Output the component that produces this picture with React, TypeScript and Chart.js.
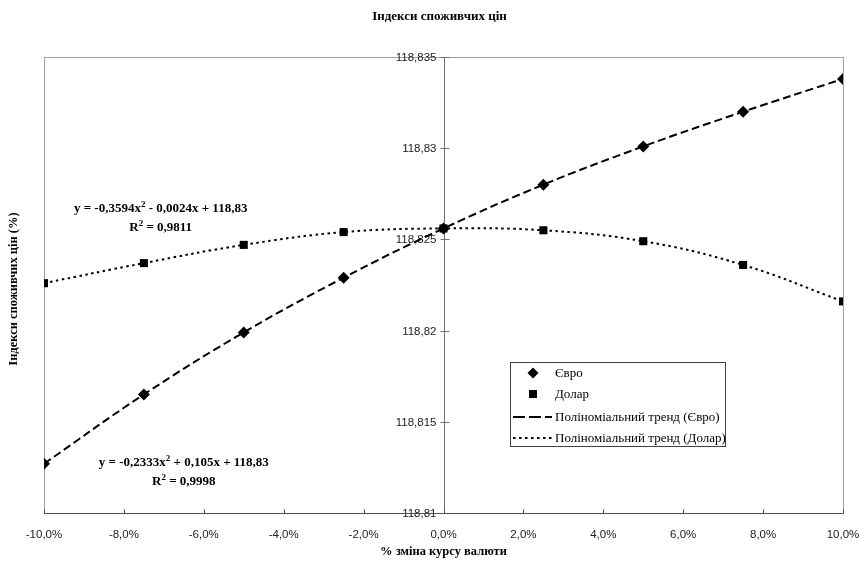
import React, { useEffect, useRef } from 'react';
import { Chart, registerables } from 'chart.js';

Chart.register(...registerables);

// ---- data ----
const xValues = [-10, -7.5, -5, -2.5, 0, 2.5, 5, 7.5, 10];
const euroValues = [118.8127, 118.8165, 118.8199, 118.8229, 118.8256, 118.828, 118.8301, 118.832, 118.8338];
const dollarValues = [118.8226, 118.8237, 118.8247, 118.8254, 118.8256, 118.8255, 118.8249, 118.8236, 118.8216];
const xTicks = [-10, -8, -6, -4, -2, 0, 2, 4, 6, 8, 10];
const yTicks = [118.81, 118.815, 118.82, 118.825, 118.83, 118.835];
const seriesLabels = ['Євро', 'Долар', 'Поліноміальний тренд (Євро)', 'Поліноміальний тренд (Долар)'];
const chartTitle = 'Індекси споживчих цін';
const xTitle = '% зміна курсу валюти';
const yTitle = 'Індекси споживчих цін (%)';
const dollarEquation = [['y = -0,3594x', '2', ' - 0,0024x + 118,83'], ['R', '2', ' = 0,9811']];
const euroEquation = [['y = -0,2333x', '2', ' + 0,105x + 118,83'], ['R', '2', ' = 0,9998']];
const dollarEqAnchor = [-7.08, 118.8267];
const euroEqAnchor = [-6.5, 118.8128];

const SERIF = '"Liberation Serif", "Times New Roman", serif';
const SANS = '"Liberation Sans", Arial, sans-serif';

const fmtY = (v: number) => String(Number(Number(v).toFixed(3))).replace('.', ',');
const fmtX = (v: number) => Number(v).toFixed(1).replace('.', ',') + '%';

function drawEquation(ctx: CanvasRenderingContext2D, lines: string[][], cx: number, cy: number) {
  const big = `bold 13px ${SERIF}`;
  const small = `bold 9px ${SERIF}`;
  lines.forEach((parts, i) => {
    const y = cy + i * 19;
    ctx.font = big;
    const w0 = ctx.measureText(parts[0]).width;
    const w2 = ctx.measureText(parts[2]).width;
    ctx.font = small;
    const w1 = ctx.measureText(parts[1]).width;
    let x = cx - (w0 + w1 + w2) / 2;
    ctx.textAlign = 'left';
    ctx.textBaseline = 'alphabetic';
    ctx.fillStyle = '#000';
    ctx.font = big;
    ctx.fillText(parts[0], x, y + 4);
    x += w0;
    ctx.font = small;
    ctx.fillText(parts[1], x, y - 1);
    x += w1;
    ctx.font = big;
    ctx.fillText(parts[2], x, y + 4);
  });
}

const decorPlugin = {
  id: 'decor',
  beforeDatasetsDraw(chart: any) {
    const { ctx, chartArea: ca, scales } = chart;
    const line = (x1: number, y1: number, x2: number, y2: number) => {
      ctx.beginPath();
      ctx.moveTo(x1, y1);
      ctx.lineTo(x2, y2);
      ctx.stroke();
    };
    ctx.save();
    ctx.lineWidth = 1;
    ctx.strokeStyle = '#a0a0a0';
    ctx.strokeRect(Math.round(ca.left) + 0.5, Math.round(ca.top) + 0.5, Math.round(ca.right - ca.left), Math.round(ca.bottom - ca.top));
    const x0 = Math.round(scales.x.getPixelForValue(0)) + 0.5;
    ctx.strokeStyle = '#707070';
    line(x0, ca.top, x0, ca.bottom);
    // y tick marks and labels (axis sits at x = 0)
    ctx.font = `11.5px ${SANS}`;
    ctx.fillStyle = '#222';
    ctx.textAlign = 'right';
    ctx.textBaseline = 'middle';
    for (const v of yTicks) {
      const y = Math.round(scales.y.getPixelForValue(v)) + 0.5;
      line(x0 - 4, y, x0 + 5, y);
      ctx.fillText(fmtY(v), x0 - 8, y);
    }
    ctx.strokeStyle = '#505050';
    const yb = Math.round(ca.bottom) + 0.5;
    line(ca.left, yb, ca.right, yb);
    for (const v of xTicks) {
      const x = Math.round(scales.x.getPixelForValue(v)) + 0.5;
      line(x, yb, x, yb - 4);
    }
    ctx.restore();
  },
  afterDraw(chart: any) {
    const { ctx, chartArea: ca, scales } = chart;
    ctx.save();
    ctx.fillStyle = '#000';
    // chart title
    ctx.font = `bold 13px ${SERIF}`;
    ctx.textAlign = 'center';
    ctx.textBaseline = 'middle';
    ctx.fillText(chartTitle, (ca.left + ca.right) / 2 - 4, 17);
    // x title
    ctx.font = `bold 12.5px ${SERIF}`;
    ctx.fillText(xTitle, scales.x.getPixelForValue(0), 552);
    // y title
    ctx.save();
    ctx.translate(14, (ca.top + ca.bottom) / 2 + 4);
    ctx.rotate(-Math.PI / 2);
    ctx.fillText(yTitle, 0, 0);
    ctx.restore();
    // equations
    drawEquation(ctx, dollarEquation, scales.x.getPixelForValue(dollarEqAnchor[0]), scales.y.getPixelForValue(dollarEqAnchor[1]));
    drawEquation(ctx, euroEquation, scales.x.getPixelForValue(euroEqAnchor[0]), scales.y.getPixelForValue(euroEqAnchor[1]));
    // legend
    const lx = ca.left + 466;
    const ly = ca.top + 305;
    const lw = 215;
    const lh = 84;
    ctx.fillStyle = '#fff';
    ctx.fillRect(lx, ly, lw, lh);
    ctx.strokeStyle = '#404040';
    ctx.lineWidth = 1;
    ctx.strokeRect(lx + 0.5, ly + 0.5, lw, lh);
    const rows = [11, 32, 55, 76];
    const textX = lx + 45;
    ctx.font = `13px ${SERIF}`;
    ctx.textAlign = 'left';
    ctx.textBaseline = 'middle';
    ctx.fillStyle = '#000';
    rows.forEach((dy, i) => {
      const y = ly + dy;
      if (i === 0) {
        ctx.beginPath();
        ctx.moveTo(lx + 23, y - 5.5);
        ctx.lineTo(lx + 28.5, y);
        ctx.lineTo(lx + 23, y + 5.5);
        ctx.lineTo(lx + 17.5, y);
        ctx.closePath();
        ctx.fill();
      } else if (i === 1) {
        ctx.fillRect(lx + 19, y - 4, 8, 8);
      } else {
        ctx.save();
        ctx.strokeStyle = '#000';
        ctx.lineWidth = 2;
        ctx.setLineDash(i === 2 ? [12, 4] : [2.5, 3.5]);
        ctx.beginPath();
        ctx.moveTo(lx + 3, y);
        ctx.lineTo(lx + 42, y);
        ctx.stroke();
        ctx.restore();
      }
      ctx.fillText(seriesLabels[i], textX, y + 1);
    });
    ctx.restore();
  },
};

export default function App() {
  const ref = useRef<HTMLCanvasElement | null>(null);
  useEffect(() => {
    const canvas = ref.current;
    if (!canvas) return;
    const euroPts = xValues.map((x, i) => ({ x, y: euroValues[i] }));
    const dollarPts = xValues.map((x, i) => ({ x, y: dollarValues[i] }));
    const chart = new Chart(canvas, {
      type: 'line',
      data: {
        datasets: [
          {
            label: seriesLabels[0],
            data: euroPts,
            showLine: false,
            pointStyle: 'rectRot',
            pointRadius: 6,
            pointBackgroundColor: '#000',
            pointBorderColor: '#000',
            pointBorderWidth: 0,
          },
          {
            label: seriesLabels[1],
            data: dollarPts,
            showLine: false,
            pointStyle: 'rect',
            pointRadius: 5.7,
            pointBackgroundColor: '#000',
            pointBorderColor: '#000',
            pointBorderWidth: 0,
          },
          {
            label: seriesLabels[2],
            data: euroPts,
            borderColor: '#000',
            borderWidth: 2,
            borderDash: [8, 4],
            pointRadius: 0,
            tension: 0.4,
            fill: false,
          },
          {
            label: seriesLabels[3],
            data: dollarPts,
            borderColor: '#000',
            borderWidth: 2,
            borderDash: [2.5, 3.5],
            pointRadius: 0,
            tension: 0.4,
            fill: false,
          },
        ],
      },
      options: {
        animation: false,
        responsive: true,
        maintainAspectRatio: false,
        events: [],
        layout: { padding: { top: 57, left: 44, right: 16, bottom: 0 } },
        plugins: {
          legend: { display: false },
          title: { display: false },
          tooltip: { enabled: false },
        },
        scales: {
          x: {
            type: 'linear',
            min: -10,
            max: 10,
            grid: { display: false },
            border: { display: false },
            afterBuildTicks: (s: any) => {
              s.ticks = xTicks.map((v) => ({ value: v }));
            },
            afterFit: (s: any) => {
              s.height = 48;
              s.paddingLeft = 0;
              s.paddingRight = 0;
            },
            ticks: {
              autoSkip: false,
              maxRotation: 0,
              padding: 7,
              color: '#222',
              font: { family: SANS, size: 11.5 },
              callback: (v: any) => fmtX(v),
            },
          },
          y: {
            type: 'linear',
            position: { x: 0 } as any,
            min: 118.81,
            max: 118.835,
            grid: { display: false },
            border: { display: false },
            afterBuildTicks: (s: any) => {
              s.ticks = yTicks.map((v) => ({ value: v }));
            },
            ticks: { display: false },
          },
        },
      },
      plugins: [decorPlugin],
    });
    return () => chart.destroy();
  }, []);
  return (
    <div style={{ position: 'fixed', left: 0, top: 0, width: 859, height: 561, background: '#fff' }}>
      <canvas ref={ref} />
    </div>
  );
}
